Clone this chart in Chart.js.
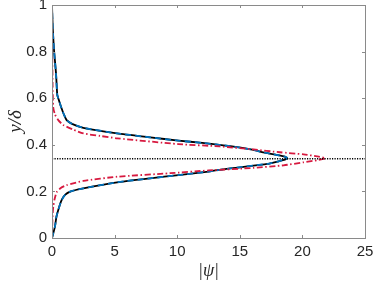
<!DOCTYPE html>
<html>
<head>
<meta charset="utf-8">
<script src="https://cdn.jsdelivr.net/npm/chart.js@4"></script>
<style>
  html, body { margin: 0; padding: 0; background: #fff; }
  #wrap { width: 374px; height: 285px; }
</style>
</head>
<body>
<div id="wrap"><canvas id="chart"></canvas></div>
<script>
// tick labels
var xTicks = [0, 5, 10, 15, 20, 25]
var yTicks = [0, 0.2, 0.4, 0.6, 0.8, 1]
var yTickLabels = ['0', '0.2', '0.4', '0.6', '0.8', '1']

// black solid curve, |psi| against y/delta
var blackY = [0, 0.02, 0.05, 0.09, 0.12, 0.16, 0.185, 0.2, 0.213, 0.239, 0.256, 0.27, 0.285, 0.299, 0.318, 0.328, 0.336, 0.342, 0.349, 0.356, 0.366, 0.378, 0.394, 0.408, 0.418, 0.432, 0.449, 0.473, 0.49, 0.506, 0.53, 0.563, 0.6, 0.614, 0.707, 0.807, 0.9, 1]
var blackX = [0, 0.1, 0.24, 0.35, 0.5, 0.75, 1.04, 1.5, 2.5, 5.2, 7.84, 10.1, 12.5, 14.24, 17.2, 18.0, 18.6, 18.8, 18.6, 18.0, 17.0, 16.1, 14.24, 12.0, 10.1, 7.84, 5.2, 2.5, 1.6, 1.17, 0.95, 0.72, 0.5, 0.42, 0.32, 0.16, 0.06, 0]

// blue dashed curve (lies on the black one)
var blueY = [0, 0.02, 0.05, 0.09, 0.12, 0.16, 0.185, 0.2, 0.213, 0.239, 0.256, 0.27, 0.285, 0.299, 0.318, 0.328, 0.336, 0.342, 0.349, 0.356, 0.366, 0.378, 0.394, 0.408, 0.418, 0.432, 0.449, 0.473, 0.49, 0.506, 0.53, 0.563, 0.6, 0.614, 0.707, 0.807, 0.9, 1]
var blueX = [0, 0.1, 0.24, 0.35, 0.5, 0.75, 1.04, 1.5, 2.5, 5.2, 7.84, 10.1, 12.5, 14.24, 17.2, 18.0, 18.6, 18.8, 18.6, 18.0, 17.0, 16.1, 14.24, 12.0, 10.1, 7.84, 5.2, 2.5, 1.6, 1.17, 0.95, 0.72, 0.5, 0.42, 0.32, 0.16, 0.06, 0]

// red dash-dot curve
var redY = [0, 0.05, 0.1, 0.134, 0.165, 0.196, 0.215, 0.227, 0.245, 0.263, 0.278, 0.29, 0.301, 0.312, 0.325, 0.335, 0.342, 0.349, 0.359, 0.368, 0.38, 0.393, 0.403, 0.428, 0.438, 0.449, 0.465, 0.485, 0.506, 0.53, 0.56, 0.65, 0.8, 1]
var redX = [0, 0.02, 0.05, 0.1, 0.2, 0.37, 0.7, 1.17, 2.5, 5.2, 9.44, 12.5, 16.1, 18.5, 20.1, 21.3, 21.84, 21.3, 20.1, 18.2, 16.1, 13.4, 10.1, 5.2, 3.84, 2.5, 1.7, 0.9, 0.5, 0.24, 0.1, 0.05, 0.02, 0]

// horizontal dotted reference line
var refX = [0, 25]
var refY = [0.34, 0.34]

function toPoints(xs, ys){
  return xs.map(function(x, i){ return {x: x, y: ys[i]} })
}

var axisColor = '#8a8a8a'
var textColor = '#262626'

// MATLAB style box with inward ticks
var boxPlugin = {
  id: 'box',
  afterDraw: function(chart){
    var ctx = chart.ctx
    var a = chart.chartArea
    var xs = chart.scales.x
    var ys = chart.scales.y
    ctx.save()
    ctx.strokeStyle = axisColor
    ctx.lineWidth = 1
    ctx.beginPath()
    xTicks.forEach(function(v){
      var px = Math.round(xs.getPixelForValue(v)) + 0.5
      ctx.moveTo(px, a.bottom); ctx.lineTo(px, a.bottom - 3)
      ctx.moveTo(px, a.top); ctx.lineTo(px, a.top + 3)
    })
    yTicks.forEach(function(v){
      var py = Math.round(ys.getPixelForValue(v)) + 0.5
      ctx.moveTo(a.left, py); ctx.lineTo(a.left + 3, py)
      ctx.moveTo(a.right, py); ctx.lineTo(a.right - 3, py)
    })
    ctx.stroke()
    ctx.strokeRect(Math.round(a.left) + 0.5, Math.round(a.top) + 0.5,
      Math.round(a.right - a.left), Math.round(a.bottom - a.top))
    ctx.restore()
  }
}

var config = {
  type: 'scatter',
  data: {
    datasets: [
      {
        label: 'ref',
        data: toPoints(refX, refY),
        showLine: true,
        borderColor: '#000',
        borderWidth: 1.5,
        borderDash: [1.2, 1.3],
        pointRadius: 0,
        order: 0
      },
      {
        label: 'red',
        data: toPoints(redX, redY),
        showLine: true,
        borderColor: '#d7193f',
        borderWidth: 1.8,
        borderDash: [6, 2.5, 1.5, 2.5],
        pointRadius: 0,
        tension: 0.2,
        order: 1
      },
      {
        label: 'blue',
        data: toPoints(blueX, blueY),
        showLine: true,
        borderColor: '#0072bd',
        borderWidth: 1.8,
        borderDash: [6, 4],
        pointRadius: 0,
        tension: 0.2,
        order: 2
      },
      {
        label: 'black',
        data: toPoints(blackX, blackY),
        showLine: true,
        borderColor: '#000',
        borderWidth: 1.8,
        pointRadius: 0,
        tension: 0.2,
        order: 3
      }
    ]
  },
  options: {
    responsive: false,
    animation: false,
    layout: { padding: { top: 5, right: 9, left: 0, bottom: 0 } },
    plugins: { legend: { display: false }, tooltip: { enabled: false } },
    scales: {
      x: {
        type: 'linear',
        min: 0, max: 25,
        afterBuildTicks: function(s){ s.ticks = xTicks.map(function(v){ return {value: v} }) },
        afterFit: function(s){ s.height = 47; s.paddingLeft = 0; s.paddingRight = 0 },
        grid: { display: false, drawTicks: false },
        border: { display: false },
        ticks: {
          color: textColor,
          padding: 5,
          maxRotation: 0,
          font: { family: 'Liberation Sans', size: 15 },
          callback: function(v){ return String(v) }
        },
        title: {
          display: true,
          text: '|ψ|',
          color: textColor,
          padding: { top: 0, bottom: 3 },
          font: { family: 'Liberation Serif', style: 'italic', size: 18 }
        }
      },
      y: {
        type: 'linear',
        min: 0, max: 1,
        afterBuildTicks: function(s){ s.ticks = yTicks.map(function(v){ return {value: v} }) },
        afterFit: function(s){ s.width = 52; s.paddingTop = 0; s.paddingBottom = 0 },
        grid: { display: false, drawTicks: false },
        border: { display: false },
        ticks: {
          color: textColor,
          padding: 5,
          font: { family: 'Liberation Sans', size: 15 },
          callback: function(v){
            var i = yTicks.indexOf(v)
            return i >= 0 ? yTickLabels[i] : ''
          }
        },
        title: {
          display: true,
          text: 'y/δ',
          color: textColor,
          padding: { top: 5, bottom: 0 },
          font: { family: 'Liberation Serif', style: 'italic', size: 19 }
        }
      }
    }
  },
  plugins: [boxPlugin]
}

var canvas = document.getElementById('chart')
canvas.width = 374
canvas.height = 285
var chart = new Chart(canvas, config)
</script>
</body>
</html>
